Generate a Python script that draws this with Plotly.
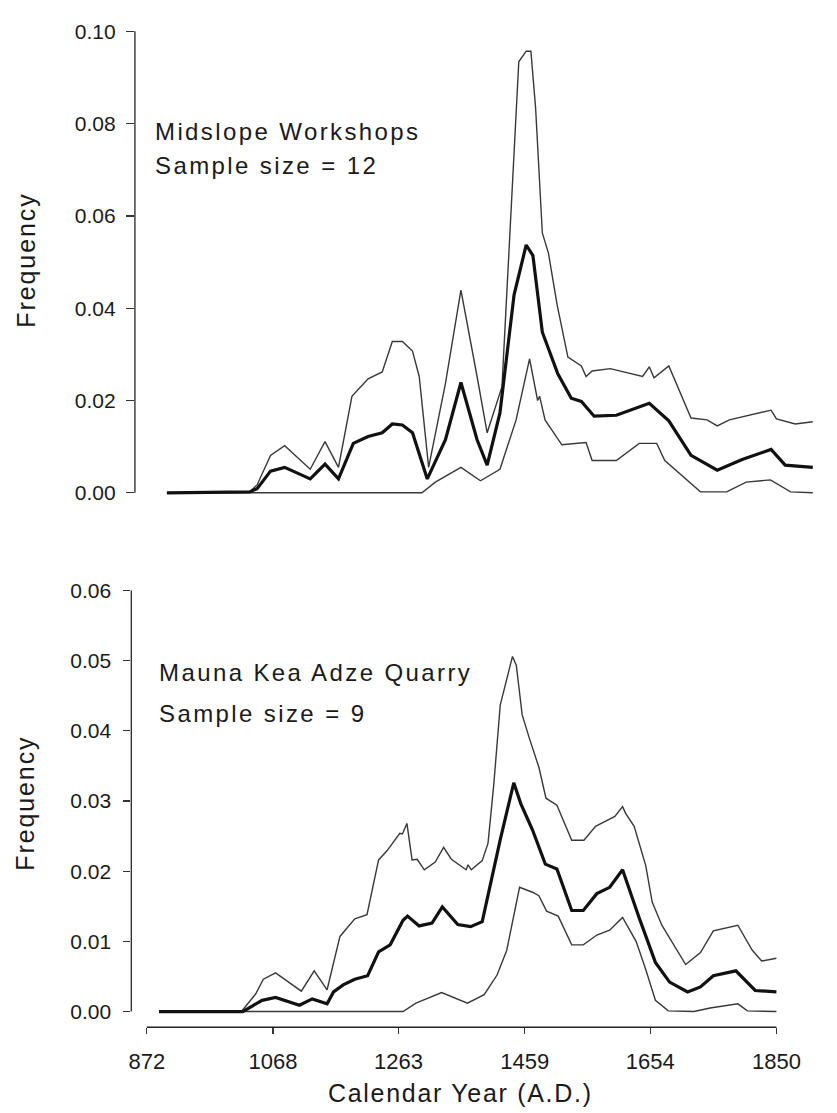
import plotly.graph_objects as go

# ---------------- data ----------------
# Top panel: Midslope Workshops
top_upper_year = [890, 1013, 1024, 1044, 1065, 1103, 1125, 1145, 1165, 1189, 1210, 1225, 1240, 1255, 1265,
                  1279, 1304, 1327, 1351, 1366, 1388, 1405, 1413, 1424, 1431, 1438, 1448, 1457, 1470, 1486,
                  1506, 1513, 1522, 1549, 1597, 1607, 1614, 1636, 1644, 1669, 1693, 1708, 1726, 1774, 1788,
                  1796, 1824, 1850]
top_upper_freq = [0, 0.0002, 0.0017, 0.0081, 0.0102, 0.0051, 0.0111, 0.0055, 0.0209, 0.0247, 0.0262, 0.0328,
                  0.0328, 0.0307, 0.0252, 0.0055, 0.0237, 0.0439, 0.0252, 0.0130, 0.0230, 0.0691, 0.0934,
                  0.0957, 0.0957, 0.0834, 0.0563, 0.0520, 0.0407, 0.0294, 0.0275, 0.0252, 0.0264, 0.0269,
                  0.0252, 0.0273, 0.0249, 0.0275, 0.0247, 0.0162, 0.0158, 0.0145, 0.0158, 0.0173, 0.0179,
                  0.0160, 0.0149, 0.0154]

top_mid_year = [890, 1013, 1024, 1044, 1065, 1103, 1125, 1145, 1167, 1189, 1210, 1225, 1240, 1255, 1277, 1304,
                1327, 1351, 1366, 1385, 1406, 1424, 1434, 1448, 1471, 1491, 1506, 1525, 1558, 1607, 1636,
                1669, 1708, 1745, 1788, 1809, 1850]
top_mid_freq = [0, 0.0002, 0.0009, 0.0047, 0.0055, 0.0030, 0.0062, 0.0030, 0.0107, 0.0122, 0.0130, 0.0149,
                0.0147, 0.0130, 0.0030, 0.0115, 0.0239, 0.0115, 0.0060, 0.0173, 0.0429, 0.0537, 0.0514,
                0.0348, 0.0258, 0.0205, 0.0198, 0.0166, 0.0168, 0.0194, 0.0156, 0.0081, 0.0049, 0.0072,
                0.0094, 0.0060, 0.0055]

top_low_year = [890, 1269, 1289, 1327, 1356, 1385, 1409, 1429, 1441, 1444, 1452, 1477, 1513, 1522, 1558,
                1592, 1618, 1630, 1683, 1722, 1751, 1787, 1817, 1850]
top_low_freq = [0, 0, 0.0023, 0.0055, 0.0026, 0.0051, 0.0158, 0.0290, 0.0200, 0.0209, 0.0158, 0.0104,
                0.0109, 0.0070, 0.0070, 0.0107, 0.0107, 0.0070, 0.0002, 0.0002, 0.0023, 0.0028, 0.0002, 0]

# Bottom panel: Mauna Kea Adze Quarry
bot_upper_year = [891, 1019, 1041, 1053, 1072, 1112, 1132, 1152, 1172, 1195, 1214, 1232, 1245, 1265, 1269,
                  1276, 1284, 1292, 1303, 1320, 1333, 1345, 1368, 1371, 1376, 1393, 1402, 1411, 1421, 1440,
                  1446, 1455, 1466, 1481, 1492, 1509, 1532, 1551, 1569, 1599, 1611, 1616, 1629, 1647, 1657,
                  1672, 1709, 1732, 1752, 1790, 1812, 1827, 1850]
bot_upper_freq = [0, 0, 0.0025, 0.0046, 0.0055, 0.0029, 0.0058, 0.0031, 0.0107, 0.0132, 0.0138, 0.0216,
                  0.0229, 0.0254, 0.0253, 0.0268, 0.0216, 0.0217, 0.0202, 0.0213, 0.0234, 0.0217, 0.0202,
                  0.0209, 0.0202, 0.0215, 0.0240, 0.0324, 0.0437, 0.0506, 0.0493, 0.0423, 0.0390, 0.0348,
                  0.0304, 0.0294, 0.0244, 0.0244, 0.0264, 0.0278, 0.0292, 0.0282, 0.0264, 0.0208, 0.0156,
                  0.0123, 0.0067, 0.0084, 0.0115, 0.0123, 0.0088, 0.0072, 0.0076]

bot_mid_year = [891, 1021, 1051, 1072, 1109, 1129, 1152, 1162, 1177, 1195, 1215, 1232, 1250, 1270, 1277,
                1295, 1315, 1331, 1355, 1375, 1393, 1401, 1421, 1442, 1453, 1471, 1491, 1509, 1532, 1550,
                1571, 1591, 1611, 1637, 1662, 1684, 1712, 1732, 1752, 1787, 1817, 1850]
bot_mid_freq = [0, 0, 0.0016, 0.0020, 0.0009, 0.0018, 0.0011, 0.0028, 0.0038, 0.0046, 0.0051, 0.0085,
                0.0095, 0.0130, 0.0136, 0.0122, 0.0126, 0.0149, 0.0124, 0.0121, 0.0128, 0.0161, 0.0245,
                0.0326, 0.0296, 0.0259, 0.0210, 0.0203, 0.0144, 0.0144, 0.0168, 0.0177, 0.0202, 0.0133,
                0.0070, 0.0042, 0.0028, 0.0035, 0.0051, 0.0058, 0.0030, 0.0028]

bot_low_year = [891, 1270, 1290, 1330, 1370, 1396, 1408, 1416, 1431, 1451, 1471, 1481, 1493, 1511, 1532,
                1550, 1571, 1591, 1611, 1632, 1647, 1662, 1682, 1722, 1747, 1772, 1790, 1805, 1850]
bot_low_freq = [0, 0, 0.0012, 0.0027, 0.0012, 0.0024, 0.0041, 0.0052, 0.0087, 0.0177, 0.0170, 0.0165,
                0.0143, 0.0136, 0.0095, 0.0095, 0.0109, 0.0116, 0.0134, 0.0100, 0.0060, 0.0016, 0.0001,
                0, 0.0005, 0.0008, 0.0011, 0.0001, 0]

# ticks
top_yticks = [0.00, 0.02, 0.04, 0.06, 0.08, 0.10]
bot_yticks = [0.00, 0.01, 0.02, 0.03, 0.04, 0.05, 0.06]
bot_xticks = [872, 1068, 1263, 1459, 1654, 1850]

# ---------------- layout geometry ----------------
W, H = 837, 1113
FONT = "Liberation Sans, Arial, Helvetica, sans-serif"
INK = "#1a1a1a"
THIN = dict(color="#383838", width=1.4)
THICK = dict(color="#111111", width=3.2)

top_dom_x = [137 / W, 1.0]
top_dom_y = [1 - 494 / H, 1 - 20 / H]
top_xrange = [842.4, 1851.8]
top_yrange = [-0.0007, 0.10036]

bot_dom_x = [133.3 / W, 800 / W]
bot_dom_y = [1 - 1034 / H, 1 - 588 / H]
bot_xrange = [847.9, 1852.6]
bot_yrange = [-0.002243, 0.06028]


def to_paper(v, rng, dom):
    return dom[0] + (v - rng[0]) / (rng[1] - rng[0]) * (dom[1] - dom[0])


fig = go.Figure()
for yr, fr, st in [(top_upper_year, top_upper_freq, THIN), (top_low_year, top_low_freq, THIN),
                   (top_mid_year, top_mid_freq, THICK)]:
    fig.add_trace(go.Scatter(x=yr, y=fr, mode="lines", line=st, xaxis="x", yaxis="y",
                             hoverinfo="skip", showlegend=False))
for yr, fr, st in [(bot_upper_year, bot_upper_freq, THIN), (bot_low_year, bot_low_freq, THIN),
                   (bot_mid_year, bot_mid_freq, THICK)]:
    fig.add_trace(go.Scatter(x=yr, y=fr, mode="lines", line=st, xaxis="x2", yaxis="y2",
                             hoverinfo="skip", showlegend=False))

tickfont_y = dict(family=FONT, size=21, color=INK)
tickfont_x = dict(family=FONT, size=22, color=INK)

fig.update_layout(
    width=W, height=H,
    margin=dict(l=0, r=0, t=0, b=0),
    paper_bgcolor="white", plot_bgcolor="white",
    showlegend=False,
    xaxis=dict(domain=top_dom_x, range=top_xrange, visible=False, anchor="y", fixedrange=True),
    yaxis=dict(domain=top_dom_y, range=top_yrange, anchor="x", tickvals=top_yticks,
               ticktext=[f"{v:.2f}" for v in top_yticks], ticks="outside", ticklen=8, tickwidth=1.3,
               tickcolor="#333333", showgrid=False, zeroline=False, showline=False,
               tickfont=tickfont_y, ticklabelstandoff=6, fixedrange=True),
    xaxis2=dict(domain=bot_dom_x, range=bot_xrange, anchor="y2", tickvals=bot_xticks,
                ticktext=[str(v) for v in bot_xticks], ticks="outside", ticklen=6, tickwidth=1.3,
                tickcolor="#333333", showgrid=False, zeroline=False, showline=False,
                tickfont=tickfont_x, ticklabelstandoff=8, fixedrange=True),
    yaxis2=dict(domain=bot_dom_y, range=bot_yrange, anchor="x2", tickvals=bot_yticks,
                ticktext=[f"{v:.2f}" for v in bot_yticks], ticks="outside", ticklen=7, tickwidth=1.3,
                tickcolor="#333333", showgrid=False, zeroline=False, showline=False,
                tickfont=tickfont_y, ticklabelstandoff=8, fixedrange=True),
)

# axis lines (paper coordinates derived from the axis definitions)
axis_line = dict(color="#333333", width=1.4)
fig.add_shape(type="line", xref="paper", yref="paper",
              x0=top_dom_x[0], x1=top_dom_x[0],
              y0=to_paper(0.0, top_yrange, top_dom_y), y1=to_paper(0.10, top_yrange, top_dom_y),
              line=axis_line)
fig.add_shape(type="line", xref="paper", yref="paper",
              x0=bot_dom_x[0], x1=bot_dom_x[0],
              y0=to_paper(0.0, bot_yrange, bot_dom_y), y1=to_paper(0.06, bot_yrange, bot_dom_y),
              line=axis_line)
fig.add_shape(type="line", xref="paper", yref="paper",
              x0=to_paper(bot_xticks[0], bot_xrange, bot_dom_x),
              x1=to_paper(bot_xticks[-1], bot_xrange, bot_dom_x),
              y0=bot_dom_y[0], y1=bot_dom_y[0], line=dict(color="#222222", width=1.6))


def spaced(txt, sp):
    return f'<span style="letter-spacing:{sp}px">{txt}</span>'


labels = [
    ("Midslope Workshops", 156 / W, 1 - 123.5 / H, 24, 2.4),
    ("Sample size = 12", 156 / W, 1 - 158 / H, 24, 2.4),
    ("Mauna Kea Adze Quarry", 160 / W, 1 - 673 / H, 24, 2.4),
    ("Sample size = 9", 160 / W, 1 - 715 / H, 24, 2.4),
]
for txt, x, y, size, sp in labels:
    fig.add_annotation(text=spaced(txt, sp), x=x, y=y, xref="paper", yref="paper",
                       xanchor="left", yanchor="middle", showarrow=False,
                       font=dict(family=FONT, size=size, color=INK))

for yc, xc in [(254.5, 25), (806, 23.5)]:
    fig.add_annotation(text=spaced("Frequency", 1.9), x=xc / W, y=1 - yc / H, xref="paper", yref="paper",
                       xanchor="center", yanchor="middle", showarrow=False, textangle=-90,
                       font=dict(family=FONT, size=25, color=INK))

fig.add_annotation(text=spaced("Calendar Year (A.D.)", 1.7), x=473 / W, y=1 - 1101 / H,
                   xref="paper", yref="paper", xanchor="center", yanchor="middle", showarrow=False,
                   font=dict(family=FONT, size=25, color=INK))

fig.write_html("out.html",
               config={"displayModeBar": False, "staticPlot": True},
               post_script="document.body.style.margin='0';document.body.style.overflow='hidden';")
